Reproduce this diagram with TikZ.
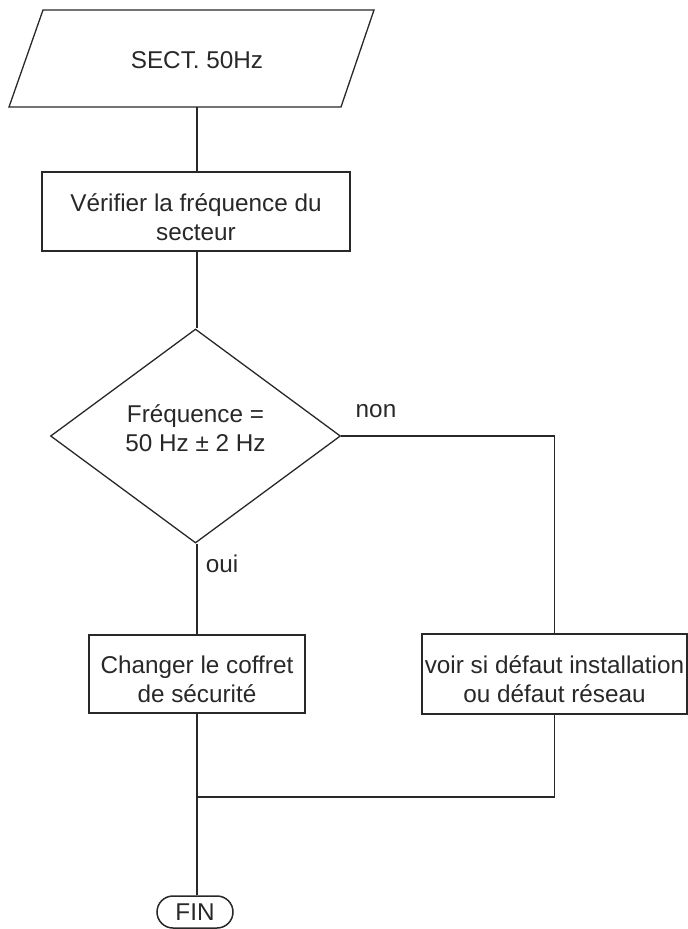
\documentclass[tikz,border=0pt]{standalone}
\usepackage{fontspec}
\setmainfont{Liberation Sans}
\usetikzlibrary{shapes.geometric,shapes.misc}
\definecolor{ink}{RGB}{40,40,40}
\newcommand{\lowerstrut}{\rule{0pt}{29pt}}
\begin{document}
\begin{tikzpicture}[x=1pt,y=-1pt,
  every node/.style={font=\fontsize{24.3}{29}\selectfont, text=ink},
  box/.style={draw=ink, line width=1.3pt, rectangle, align=center, inner sep=0pt},
  dia/.style={draw=ink, line width=1.3pt, diamond, inner sep=0pt},
  term/.style={draw=ink, line width=1.5pt, rounded rectangle, inner sep=0pt, minimum width=76pt, minimum height=32pt},
  conn/.style={draw=ink, line width=1.3pt}
]
\useasboundingbox (0,0) rectangle (688,929);
% input parallelogram
\coordinate (p1) at (43,10);
\coordinate (p2) at (374,10);
\coordinate (p3) at (341,107);
\coordinate (p4) at (9,107);
\draw[conn, line join=miter] (p1) -- (p2) -- (p3) -- (p4) -- cycle;
\node (sect) at (197,60) {SECT. 50Hz};
\coordinate (sectb) at (197,107);
% boxes
\node[box, minimum width=308pt, minimum height=79pt] (verif) at (196,211.5) {\lowerstrut Vérifier la fréquence du\\secteur};
\node[dia, minimum width=290pt, minimum height=214pt] (test) at (195.5,436) {};
\node[align=center] (testtxt) at (195.5,428) {Fréquence =\\50 Hz ± 2 Hz};
\node[box, minimum width=216pt, minimum height=78pt] (chg) at (197,674) {\lowerstrut Changer le coffret\\de sécurité};
\node[box, minimum width=265pt, minimum height=80pt] (voir) at (554.5,674) {\lowerstrut voir si défaut installation\\ou défaut réseau};
\node[term] (fin) at (195,912) {FIN};
\coordinate (join) at (197,797);
% connectors
\draw[conn] (sectb) -- (sectb |- verif.north);
\draw[conn] (sectb |- verif.south) -- (sectb |- test.north);
\draw[conn] (sectb |- test.south) -- (sectb |- chg.north);
\draw[conn] (test.east) -- (voir.north |- test.east) -- (voir.north);
\draw[conn] (sectb |- chg.south) -- (sectb |- fin.north);
\draw[conn] (voir.south) -- (voir.south |- join) -- (join);
% labels
\node (non) at (376,411) {non};
\node (oui) at (222,564) {oui};
\end{tikzpicture}
\end{document}
